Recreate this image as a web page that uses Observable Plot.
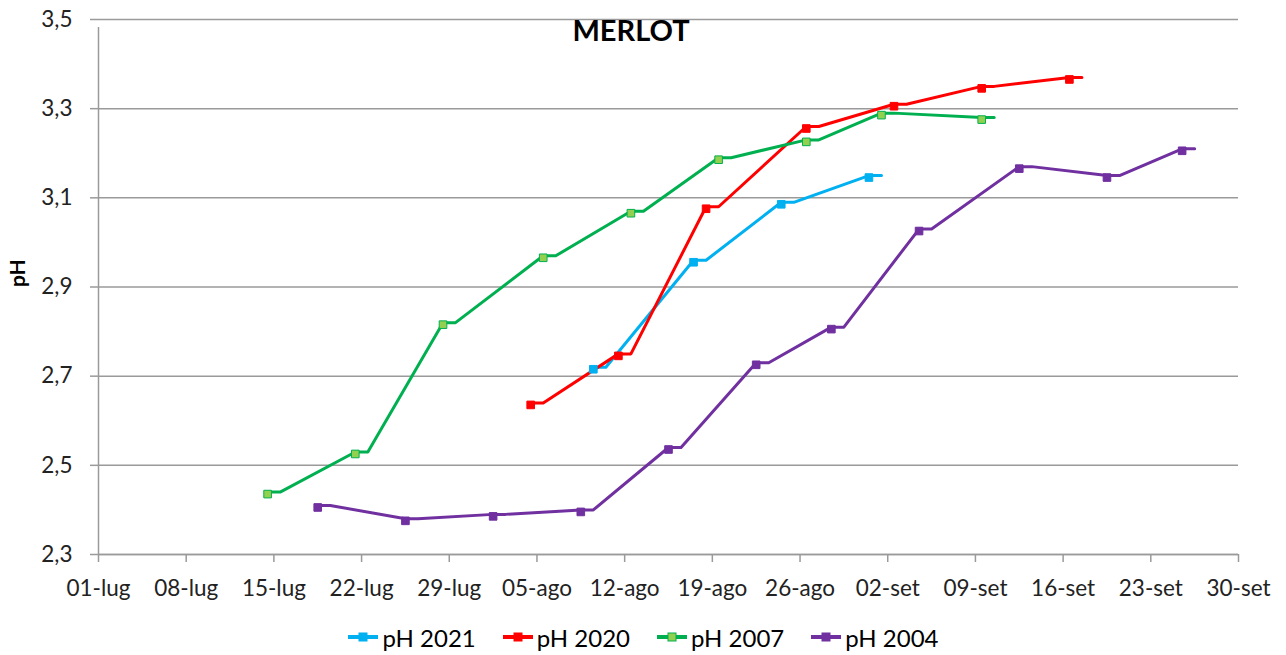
<!DOCTYPE html>
<html><head><meta charset="utf-8">
<script src="https://cdn.jsdelivr.net/npm/d3@7"></script>
<script src="https://cdn.jsdelivr.net/npm/@observablehq/plot@0.6"></script>
<style>
body{margin:0;background:#fff;font-family:Lato,"Open Sans",sans-serif;}
#wrap{position:relative;width:1286px;}
#title{position:absolute;top:12px;left:0;width:1262px;text-align:center;font-weight:bold;font-size:29px;color:#000;}
#legend{display:flex;justify-content:center;gap:26px;margin-top:6px;padding-left:0px;font-size:24px;color:#000;align-items:center;height:32px;}
#legend .it{display:flex;align-items:center;gap:3px;}
</style></head>
<body><div id="wrap"><div id="title">MERLOT</div><div id="chart"></div><div id="legend"></div></div>
<script>
// ---- data (day-month of each sampling, pH) ----
const dates2021 = ["08-10","08-18","08-25","09-01"];
const ph2021    = [2.72, 2.96, 3.09, 3.15];
const dates2020 = ["08-05","08-12","08-19","08-27","09-03","09-10","09-17"];
const ph2020    = [2.64, 2.75, 3.08, 3.26, 3.31, 3.35, 3.37];
const dates2007 = ["07-15","07-22","07-29","08-06","08-13","08-20","08-27","09-02","09-10"];
const ph2007    = [2.44, 2.53, 2.82, 2.97, 3.07, 3.19, 3.23, 3.29, 3.28];
const dates2004 = ["07-19","07-26","08-02","08-09","08-16","08-23","08-29","09-05","09-13","09-20","09-26"];
const ph2004    = [2.41, 2.38, 2.39, 2.40, 2.54, 2.73, 2.81, 3.03, 3.17, 3.15, 3.21];
const seriesNames = ["pH 2021","pH 2020","pH 2007","pH 2004"];
const colors      = ["#00B0F0","#FF0000","#00B050","#7030A0"];
const markerFill  = ["#00B0F0","#FF0000","#92D050","#7030A0"];
const monthNames  = ["gen","feb","mar","apr","mag","giu","lug","ago","set","ott","nov","dic"];
const yTicks      = [2.3, 2.5, 2.7, 2.9, 3.1, 3.3, 3.5];

const parse = s => { const [m,d] = s.split("-").map(Number); return new Date(Date.UTC(2021, m-1, d)); };
const all = [[dates2021,ph2021],[dates2020,ph2020],[dates2007,ph2007],[dates2004,ph2004]];
const points = [];
all.forEach(([ds,vs],i) => ds.forEach((d,j) => points.push({series: seriesNames[i], date: parse(d), ph: vs[j]})));
// Excel-style rendering: each value is held for about one day (marker at its start)
const H = 12*3600*1000;
const pathPts = [];
points.forEach(p => {
  pathPts.push({series:p.series, date:new Date(+p.date - H), ph:p.ph});
  pathPts.push({series:p.series, date:new Date(+p.date + H), ph:p.ph});
});
const markPts = points.map(p => ({...p, date:new Date(+p.date - H)}));

const x0 = new Date(Date.UTC(2021,6,1)), x1 = new Date(Date.UTC(2021,8,30));
const xTicks = d3.utcDay.range(x0, new Date(+x1 + 1), 7);
const fmtX = d => String(d.getUTCDate()).padStart(2,"0") + "-" + monthNames[d.getUTCMonth()];
const fmtY = v => v.toFixed(1).replace(".", ",");

const chart = Plot.plot({
  width: 1286, height: 615,
  marginLeft: 98, marginRight: 48, marginTop: 19, marginBottom: 61,
  style: {fontFamily: "Lato, 'Open Sans', sans-serif", fontSize: "22.5px", color: "#222", background: "#fff"},
  x: {type: "utc", domain: [x0, x1]},
  y: {domain: [2.3, 3.5]},
  color: {domain: seriesNames, range: colors},
  marks: [
    Plot.gridY(yTicks, {stroke: "#9a9a9a", strokeOpacity: 1, strokeWidth: 1.5}),
    Plot.ruleX([x0], {stroke: "#9a9a9a", strokeWidth: 1.5, y1: 2.3, y2: 3.5, insetBottom: -8}),
    Plot.ruleY([2.3], {stroke: "#9a9a9a", strokeWidth: 1.5}),
    Plot.axisY(yTicks, {tickFormat: fmtY, tickSize: 8, tickPadding: 18, stroke: "#9a9a9a", strokeWidth: 1.5, fill: "#222", label: null}),
    Plot.axisX(xTicks, {tickFormat: fmtX, tickSize: 8, tickPadding: 18, stroke: "#9a9a9a", strokeWidth: 1.5, fill: "#222", label: null}),
    Plot.line(pathPts, {x: "date", y: "ph", z: "series", stroke: "series", strokeWidth: 3}),
    Plot.dot(markPts, {x: "date", y: "ph", symbol: "square", r: 4.3, dy: 2,
      fill: d => markerFill[seriesNames.indexOf(d.series)],
      stroke: d => colors[seriesNames.indexOf(d.series)], strokeWidth: 1}),
    Plot.text(["pH"], {frameAnchor: "left", dx: -80, rotate: -90, fontWeight: "bold", fontSize: 21, fill: "#000"})
  ]
});
document.getElementById("chart").appendChild(chart);

// legend
const lg = document.getElementById("legend");
seriesNames.forEach((n,i) => {
  const it = document.createElement("div"); it.className = "it";
  it.innerHTML = `<svg width="32" height="12"><line x1="1" x2="31" y1="6" y2="6" stroke="${colors[i]}" stroke-width="4"/><rect x="12" y="2" width="8" height="8" fill="${markerFill[i]}" stroke="${colors[i]}"/></svg><span>${n}</span>`;
  lg.appendChild(it);
});
</script></body></html>
